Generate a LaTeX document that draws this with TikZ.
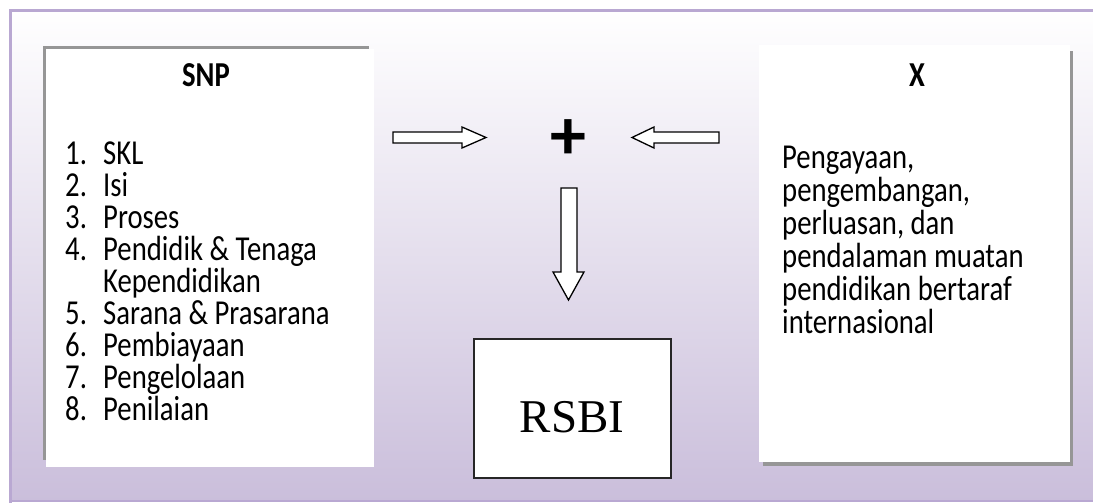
\documentclass[tikz,border=0pt]{standalone}
\usepackage{fontspec}
\setmainfont{Carlito}[FakeStretch=0.82]
\newfontfamily\plusfont{Carlito}
\newfontfamily\seriffont{Liberation Serif}
\definecolor{framecol}{RGB}{185,168,210}
\definecolor{lavbot}{RGB}{202,190,219}
\definecolor{shadowgray}{RGB}{150,150,150}
\begin{document}
\begin{tikzpicture}[x=1pt,y=-1pt,
  txt/.style={inner sep=0pt, anchor=base west, font=\fontsize{35}{35}\selectfont},
  ttl/.style={inner sep=0pt, anchor=base, font=\fontsize{35}{35}\selectfont\bfseries},
  blockarrow/.style={draw=black, fill=white, line width=1.3pt, line join=miter},
  panel/.style={fill=white, inner sep=0pt, anchor=north west}]
\useasboundingbox (0,0) rectangle (1093,503);
\fill[white] (0,0) rectangle (1093,503);
\shade[top color=white, bottom color=lavbot] (10,10) rectangle (1100,501);
\draw[framecol, line width=2.5pt] (1100,10.5) -- (10.5,10.5) -- (10.5,503);
\draw[framecol, line width=1.2pt] (10.5,501) -- (1100,501);

% SNP panel
\fill[shadowgray] (43,46) rectangle (369,460);
\node[panel, minimum width=328pt, minimum height=418pt] (snp) at (45.5,48.5) {};
\node[ttl] (snpt) at (206,87) {SNP};
\foreach \n/\t [count=\i] in {1./SKL, 2./Isi, 3./Proses, 4./Pendidik \& Tenaga, /Kependidikan, 5./Sarana \& Prasarana, 6./Pembiayaan, 7./Pengelolaan, 8./Penilaian}{
  \node[txt] (num\i) at (65,{164+(\i-1)*32}) {\n};
  \node[txt] (item\i) at (103,{164+(\i-1)*32}) {\t};
}

% X panel
\fill[shadowgray] (763,51) rectangle (1073,466);
\node[panel, minimum width=311pt, minimum height=417pt] (xbox) at (759,45) {};
\node[ttl] (xt) at (917,87) {X};
\foreach \t [count=\i] in {{Pengayaan,}, {pengembangan,}, {perluasan, dan}, {pendalaman muatan}, {pendidikan bertaraf}, {internasional}}{
  \node[txt] (xl\i) at (782,{168+(\i-1)*33}) {\t};
}

% plus
\node[inner sep=0pt, font=\plusfont\fontsize{72}{72}\selectfont\bfseries] (plus) at (568,140) {+};

% block arrows
\draw[blockarrow] (393,132) -- (462,132) -- (462,127) -- (486,137.5) -- (462,148) -- (462,143) -- (393,143) -- cycle;
\draw[blockarrow] (719,132) -- (654,132) -- (654,127) -- (632,137.5) -- (654,148) -- (654,143) -- (719,143) -- cycle;
\draw[blockarrow] (561,188) -- (577,188) -- (577,272) -- (584,272) -- (568.5,300) -- (553,272) -- (561,272) -- cycle;

% RSBI
\node[panel, draw=black!85, line width=1.6pt, minimum width=197pt, minimum height=139pt] (rsbi) at (473,338) {};
\node[inner sep=0pt, anchor=base, font=\seriffont\fontsize{47}{47}\selectfont] (rsbit) at (572,432) {RSBI};
\end{tikzpicture}
\end{document}
